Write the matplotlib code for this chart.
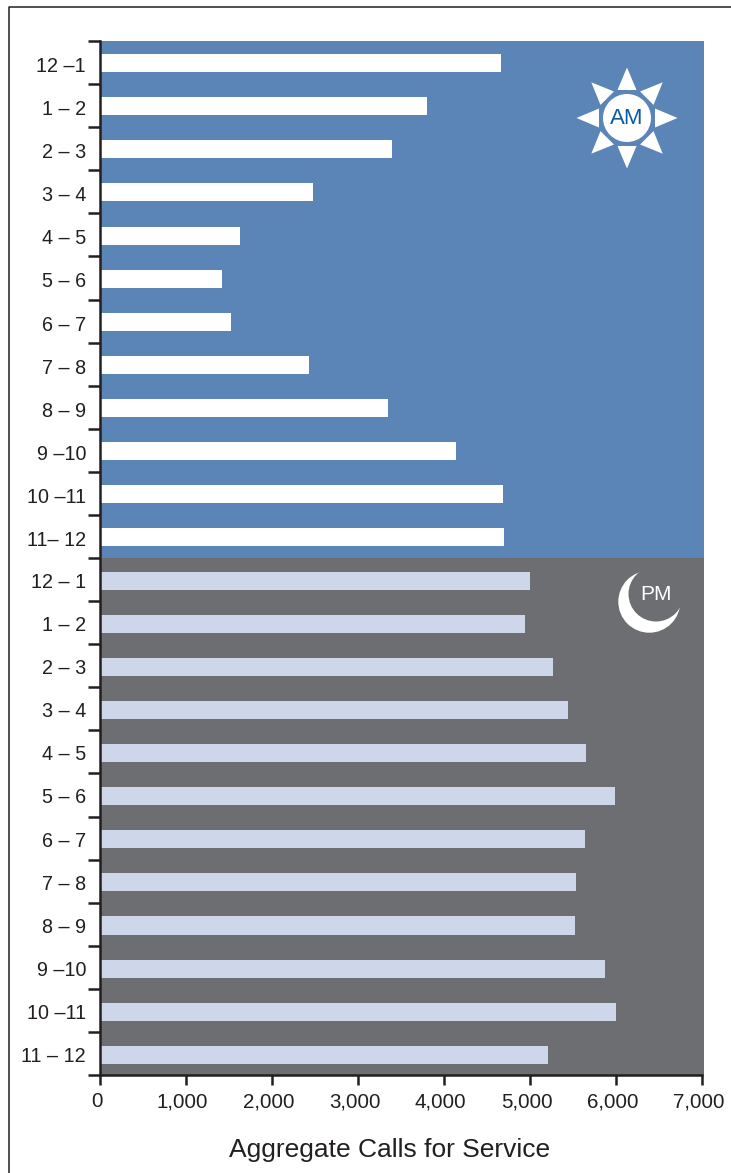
import numpy as np
import matplotlib
matplotlib.use('Agg')
import matplotlib.pyplot as plt
from matplotlib.lines import Line2D
from matplotlib.patches import Circle, Polygon
from matplotlib.transforms import ScaledTranslation

# Hour labels, spacing kept as typeset
am_hours = ['12 –1', '1 – 2', '2 – 3', '3 – 4', '4 – 5', '5 – 6',
            '6 – 7', '7 – 8', '8 – 9', '9 –10', '10 –11', '11– 12']
pm_hours = ['12 – 1', '1 – 2', '2 – 3', '3 – 4', '4 – 5', '5 – 6',
            '6 – 7', '7 – 8', '8 – 9', '9 –10', '10 –11', '11 – 12']

# Aggregate calls per hour
am_calls = [4665, 3810, 3405, 2485, 1630, 1420, 1525, 2440, 3350, 4140, 4690, 4700]
pm_calls = [5000, 4950, 5270, 5445, 5660, 5990, 5640, 5535, 5525, 5880, 6000, 5210]

x_ticks = [0, 1000, 2000, 3000, 4000, 5000, 6000, 7000]

BLUE = '#5b84b7'
GREY = '#6d6e71'
PALE = '#ced6ea'
INK = '#231f20'

W, H = 731, 1173
plt.rcParams['font.family'] = ['Liberation Sans', 'DejaVu Sans']

fig = plt.figure(figsize=(W / 100, H / 100), dpi=100)
ax = fig.add_axes([99.5 / W, 1 - 1075 / H, 604.5 / W, 1034 / H])
ax.set_xlim(0, 7029)
ax.set_ylim(23.5, -0.5)

# AM and PM background bands
ax.axhspan(-0.5, 11.5, color=BLUE, lw=0, zorder=0)
ax.axhspan(11.5, 23.5, color=GREY, lw=0, zorder=0)

ypos = np.arange(24)
ax.barh(ypos[:12] + 0.015, am_calls, height=0.418, color='white', zorder=2)
ax.barh(ypos[12:] + 0.03, pm_calls, height=0.418, color=PALE, zorder=2)

for side in ['top', 'right']:
    ax.spines[side].set_visible(False)
for side in ['left', 'bottom']:
    ax.spines[side].set_linewidth(1.8)
    ax.spines[side].set_color(INK)
    ax.spines[side].set_zorder(5)
ax.spines['bottom'].set_bounds(0, 7000)

# Long ticks mark hour boundaries, labels sit between them
ax.set_yticks(np.arange(-0.5, 24, 1))
ax.set_yticklabels([])
ax.set_yticks(ypos, labels=am_hours + pm_hours, minor=True)
ax.tick_params(axis='y', which='major', length=8.5, width=1.8, color=INK)
ax.tick_params(axis='y', which='minor', length=0, pad=9.7, labelsize=14.2, labelcolor=INK)
for i, lab in enumerate(ax.get_yticklabels(minor=True)):
    down = 2 if i < 12 else 1
    lab.set_transform(lab.get_transform() + ScaledTranslation(0, -down / 100, fig.dpi_scale_trans))

ax.set_xticks(x_ticks, labels=[f'{v:,}' for v in x_ticks])
ax.tick_params(axis='x', length=7.5, width=1.8, color=INK, pad=5, labelsize=14.8, labelcolor=INK)
shift = ScaledTranslation(-3 / 100, 0, fig.dpi_scale_trans)
for lab in ax.get_xticklabels():
    lab.set_transform(lab.get_transform() + shift)

# Overlay in pixel coordinates for the frame and the icons
ov = fig.add_axes([0, 0, 1, 1], zorder=10)
ov.set_xlim(0, W)
ov.set_ylim(H, 0)
ov.axis('off')
ov.add_line(Line2D([9, 9, W], [H, 6.5, 6.5], color=INK, lw=1.1))

# Sun
cx, cy = 627, 118
c = np.array([cx, cy])
ov.add_patch(Circle((cx, cy), 27.8, color=BLUE, lw=0))
for a in np.deg2rad(np.arange(0, 360, 45)):
    d = np.array([np.cos(a), np.sin(a)])
    n = np.array([-d[1], d[0]])
    ov.add_patch(Polygon([c + 50.5 * d, c + 28 * d + 9.5 * n, c + 28 * d - 9.5 * n], color='white', lw=0))
ov.add_patch(Circle((cx, cy), 24, color='white', lw=0))
ov.text(cx, cy + 0.5, 'AM', color='#0b5a9c', fontsize=16, ha='center', va='center')

# Crescent moon
ov.add_patch(Circle((649.3, 601.7), 31, color='white', lw=0))
ov.add_patch(Circle((656, 594), 27.5, color=GREY, lw=0))
ov.text(656, 594, 'PM', color='white', fontsize=15, ha='center', va='center')

ov.text(389.5, 1157, 'Aggregate Calls for Service', color=INK, fontsize=19,
        ha='center', va='baseline')

fig.savefig('out.png', dpi=100)
